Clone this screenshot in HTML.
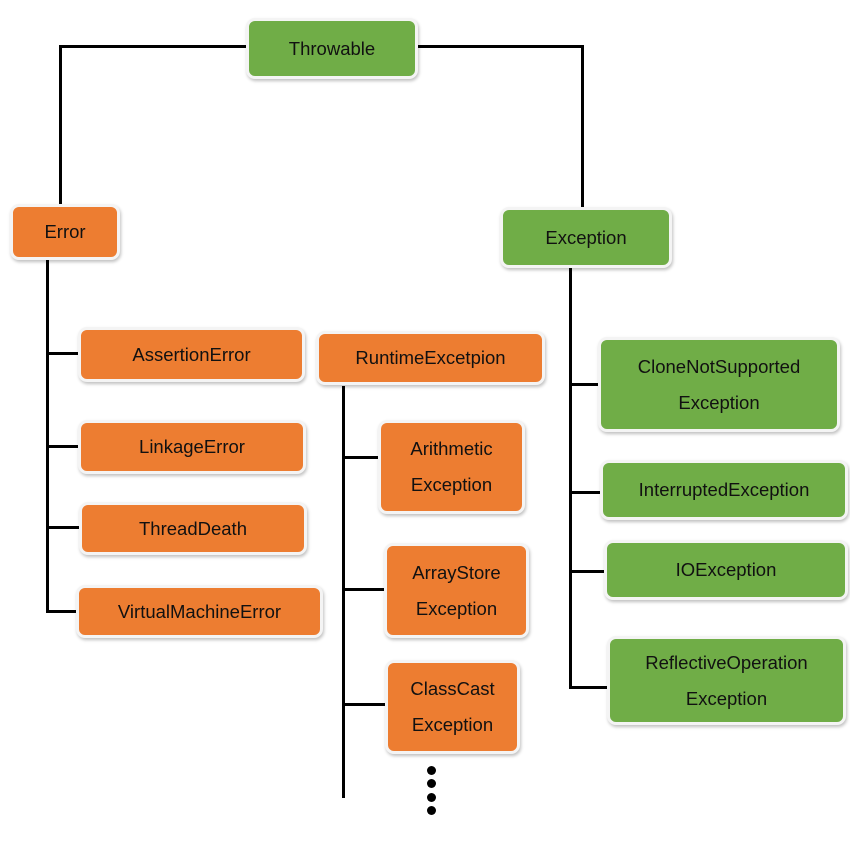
<!DOCTYPE html>
<html><head><meta charset="utf-8"><style>
body{margin:0;width:850px;height:850px;background:#fff;position:relative;overflow:hidden;font-family:"Liberation Sans",sans-serif}
.b{position:absolute;box-sizing:border-box;border:3px solid #f4f4f4;border-radius:9px;display:flex;align-items:center;justify-content:center;text-align:center;font-size:18.5px;line-height:36px;color:#111;box-shadow:1px 2px 3px rgba(0,0,0,0.25)}
.o{background:#ED7D31}.g{background:#70AD47}
.l{position:absolute;background:#000}
.d{position:absolute;width:9px;height:9px;border-radius:50%;background:#000}
</style></head><body>
<!-- lines -->
<div class="l" style="left:59px;top:45px;width:188px;height:3px"></div>
<div class="l" style="left:59px;top:45px;width:3px;height:159px"></div>
<div class="l" style="left:418px;top:45px;width:166px;height:3px"></div>
<div class="l" style="left:581px;top:45px;width:3px;height:163px"></div>
<div class="l" style="left:46px;top:260px;width:3px;height:353px"></div>
<div class="l" style="left:46px;top:352px;width:33px;height:3px"></div>
<div class="l" style="left:46px;top:445px;width:33px;height:3px"></div>
<div class="l" style="left:46px;top:526px;width:33px;height:3px"></div>
<div class="l" style="left:46px;top:610px;width:31px;height:3px"></div>
<div class="l" style="left:342px;top:386px;width:3px;height:412px"></div>
<div class="l" style="left:342px;top:456px;width:37px;height:3px"></div>
<div class="l" style="left:342px;top:588px;width:43px;height:3px"></div>
<div class="l" style="left:342px;top:703px;width:44px;height:3px"></div>
<div class="l" style="left:569px;top:268px;width:3px;height:420px"></div>
<div class="l" style="left:569px;top:383px;width:30px;height:3px"></div>
<div class="l" style="left:569px;top:491px;width:32px;height:3px"></div>
<div class="l" style="left:569px;top:570px;width:36px;height:3px"></div>
<div class="l" style="left:569px;top:686px;width:39px;height:3px"></div>
<div class="d" style="left:427px;top:766px"></div>
<div class="d" style="left:427px;top:779px"></div>
<div class="d" style="left:427px;top:793px"></div>
<div class="d" style="left:427px;top:806px"></div>
<!-- boxes -->
<div class="b g" style="left:246px;top:18px;width:172px;height:61px">Throwable</div>
<div class="b o" style="left:10px;top:204px;width:110px;height:56px">Error</div>
<div class="b g" style="left:500px;top:207px;width:172px;height:61px">Exception</div>
<div class="b o" style="left:78px;top:327px;width:227px;height:55px">AssertionError</div>
<div class="b o" style="left:78px;top:420px;width:228px;height:54px">LinkageError</div>
<div class="b o" style="left:79px;top:502px;width:228px;height:53px">ThreadDeath</div>
<div class="b o" style="left:76px;top:585px;width:247px;height:53px">VirtualMachineError</div>
<div class="b o" style="left:316px;top:331px;width:229px;height:54px">RuntimeExcetpion</div>
<div class="b o" style="left:378px;top:420px;width:147px;height:94px">Arithmetic<br>Exception</div>
<div class="b o" style="left:384px;top:543px;width:145px;height:95px">ArrayStore<br>Exception</div>
<div class="b o" style="left:385px;top:660px;width:135px;height:94px">ClassCast<br>Exception</div>
<div class="b g" style="left:598px;top:337px;width:242px;height:95px">CloneNotSupported<br>Exception</div>
<div class="b g" style="left:600px;top:460px;width:248px;height:60px">InterruptedException</div>
<div class="b g" style="left:604px;top:540px;width:244px;height:60px">IOException</div>
<div class="b g" style="left:607px;top:636px;width:239px;height:89px">ReflectiveOperation<br>Exception</div>
</body></html>
